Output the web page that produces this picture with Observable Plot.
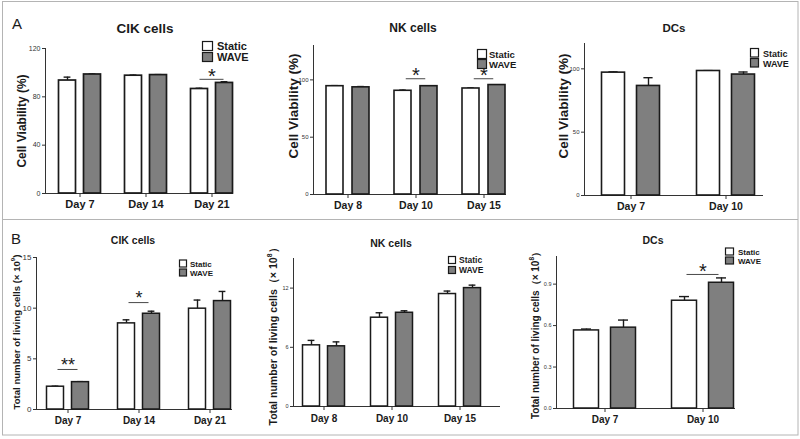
<!DOCTYPE html>
<html><head><meta charset="utf-8">
<script src="https://cdn.jsdelivr.net/npm/d3@7"></script>
<script src="https://cdn.jsdelivr.net/npm/@observablehq/plot@0.6"></script>
<style>
body{margin:0;background:#fff;}
#fig{position:relative;width:800px;height:439px;background:#fff;overflow:hidden;font-family:"Liberation Sans",Arial,sans-serif;}
#fig .panel{position:absolute;}
#overlay{position:absolute;left:0;top:0;pointer-events:none;}
</style></head><body><div id="fig"></div>
<script>
// ---------- data ----------
const seriesNames = ["Static", "WAVE"];

const cikADays = ["Day 7", "Day 14", "Day 21"];
const cikAStatic = [93.5, 97.5, 86.5];
const cikAStaticErr = [2.8, 0.5, 0.6];
const cikAWave = [98.5, 98.0, 91.5];
const cikAWaveErr = [0.4, 0.4, 1.0];
const cikAYTicks = [0, 40, 80, 120];
const cikASig = [{day: "Day 21", level: 94.5, label: "*"}];

const nkADays = ["Day 8", "Day 10", "Day 15"];
const nkAStatic = [94.5, 90.5, 92.5];
const nkAStaticErr = [0.5, 0.6, 0.5];
const nkAWave = [93.5, 94.5, 95.5];
const nkAWaveErr = [0.7, 0.4, 0.3];
const nkAYTicks = [0, 50, 100];
const nkASig = [{day: "Day 10", level: 101, label: "*"}, {day: "Day 15", level: 101, label: "*"}];

const dcADays = ["Day 7", "Day 10"];
const dcAStatic = [97.0, 98.3];
const dcAStaticErr = [0.6, 0.3];
const dcAWave = [86.5, 95.5];
const dcAWaveErr = [6.5, 2.0];
const dcAYTicks = [0, 50, 100];
const dcASig = [];

const cikBDays = ["Day 7", "Day 14", "Day 21"];
const cikBStatic = [2.25, 8.5, 9.95];
const cikBStaticErr = [0.05, 0.35, 0.85];
const cikBWave = [2.7, 9.45, 10.7];
const cikBWaveErr = [0.05, 0.25, 0.95];
const cikBYTicks = [0, 5, 10, 15];
const cikBSig = [{day: "Day 7", level: 3.95, label: "**"}, {day: "Day 14", level: 10.55, label: "*"}];

const nkBDays = ["Day 8", "Day 10", "Day 15"];
const nkBStatic = [6.2, 9.0, 11.4];
const nkBStaticErr = [0.5, 0.5, 0.3];
const nkBWave = [6.1, 9.5, 12.0];
const nkBWaveErr = [0.45, 0.2, 0.3];
const nkBYTicks = [0, 6, 12];
const nkBSig = [];

const dcBDays = ["Day 7", "Day 10"];
const dcBStatic = [0.565, 0.78];
const dcBStaticErr = [0.01, 0.03];
const dcBWave = [0.585, 0.91];
const dcBWaveErr = [0.055, 0.035];
const dcBYTicks = [0, 0.3, 0.6, 0.9];
const dcBSig = [{day: "Day 10", level: 0.97, label: "*"}];

// ---------- drawing ----------
const FONT = "'Liberation Sans', Arial, sans-serif";
const WAVE_FILL = "#7f7f7f";
const INK = "#1a1a1a";
const fig = document.getElementById("fig");

function panel(c) {
  const rows = c.days.map((d, i) => ({day: d, s: c.sv[i], se: c.se[i], w: c.wv[i], we: c.we[i]}));
  const n = c.days.length;
  const step = c.step;
  const p = 1 - c.bw / step;
  const off = (c.bw + c.gap) / 2;
  const cap = c.bw * 0.3;
  const ext = -(c.bh - c.bw / 2);
  const svg = Plot.plot({
    width: c.W, height: c.H,
    marginLeft: c.fx0 - c.L, marginRight: c.L + c.W - c.fx1,
    marginTop: c.fy0 - c.T, marginBottom: c.T + c.H - c.fy1,
    style: {background: "transparent", fontFamily: FONT, color: INK, overflow: "visible"},
    x: {domain: c.days, range: [c.c0 - step / 2 - c.L, c.c0 + (n - 1) * step + step / 2 - c.L], paddingInner: p, paddingOuter: p / 2},
    y: {domain: c.ydom},
    marks: [
      Plot.axisY({ticks: c.yticks, tickFormat: c.fmt, tickSize: 3, tickPadding: 2, fontSize: c.yfs, label: null, stroke: "#333", fill: "#333"}),
      Plot.axisX({tickSize: 4, tickPadding: c.xpad, fontSize: c.xfs, fontWeight: "bold", label: null, stroke: "#333"}),
      Plot.frame({anchor: "left", stroke: "#333"}),
      Plot.ruleY([c.ydom[0]], {stroke: "#333"}),
      Plot.ruleX(rows, {x: "day", y1: "s", y2: d => d.s + d.se, dx: -off, stroke: INK, strokeWidth: 1.4}),
      Plot.tickY(rows, {x: "day", y: d => d.s + d.se, dx: -off, insetLeft: cap, insetRight: cap, stroke: INK, strokeWidth: 1.4}),
      Plot.ruleX(rows, {x: "day", y1: "w", y2: d => d.w + d.we, dx: off, stroke: INK, strokeWidth: 1.4}),
      Plot.tickY(rows, {x: "day", y: d => d.w + d.we, dx: off, insetLeft: cap, insetRight: cap, stroke: INK, strokeWidth: 1.4}),
      Plot.barY(rows, {x: "day", y: "s", dx: -off, fill: "white", stroke: INK, strokeWidth: c.sw}),
      Plot.barY(rows, {x: "day", y: "w", dx: off, fill: WAVE_FILL, stroke: INK, strokeWidth: c.sw}),
      Plot.tickY(c.sig, {x: "day", y: "level", insetLeft: ext, insetRight: ext, stroke: "#333", strokeWidth: 0.9}),
      Plot.text(c.sig, {x: "day", y: "level", text: "label", dy: c.sdy, fontSize: c.sfs, fill: INK})
    ]
  });
  svg.classList.add("panel");
  svg.style.left = c.L + "px";
  svg.style.top = c.T + "px";
  fig.appendChild(svg);
}

const common = {sw: 1.5};
panel({...common, L: 0, T: 0, W: 260, H: 219, fx0: 45, fx1: 233, fy0: 48, fy1: 193,
  days: cikADays, sv: cikAStatic, se: cikAStaticErr, wv: cikAWave, we: cikAWaveErr,
  ydom: [0, 120], yticks: cikAYTicks, yfs: 7, xfs: 11, xpad: 3, c0: 79, step: 66, bw: 17, gap: 8, bh: 12,
  sig: cikASig, sdy: -3, sfs: 20, sw: 1.7});
panel({...common, L: 260, T: 0, W: 270, H: 219, fx0: 313, fx1: 506, fy0: 45, fy1: 194,
  days: nkADays, sv: nkAStatic, se: nkAStaticErr, wv: nkAWave, we: nkAWaveErr,
  ydom: [0, 130], yticks: nkAYTicks, yfs: 6, xfs: 10.5, xpad: 3, c0: 347, step: 68.5, bw: 17.5, gap: 8.5, bh: 10,
  sig: nkASig, sdy: -3, sfs: 20, sw: 1.6});
panel({...common, L: 530, T: 0, W: 268, H: 219, fx0: 584, fx1: 763, fy0: 43, fy1: 195,
  days: dcADays, sv: dcAStatic, se: dcAStaticErr, wv: dcAWave, we: dcAWaveErr,
  ydom: [0, 120], yticks: dcAYTicks, yfs: 6, xfs: 10.5, xpad: 3, c0: 630, step: 95, bw: 23, gap: 12, bh: 12,
  sig: dcASig, sdy: -3, sfs: 20, sw: 1.6});
panel({...common, L: 0, T: 220, W: 260, H: 214, fx0: 36, fx1: 232, fy0: 257, fy1: 409,
  days: cikBDays, sv: cikBStatic, se: cikBStaticErr, wv: cikBWave, we: cikBWaveErr,
  ydom: [0, 15], yticks: cikBYTicks, yfs: 8, xfs: 10, xpad: 3, c0: 67, step: 71, bw: 17, gap: 8, bh: 10,
  sig: cikBSig, sdy: -4, sfs: 18});
panel({...common, L: 260, T: 220, W: 270, H: 214, fx0: 293, fx1: 500, fy0: 258, fy1: 406,
  days: nkBDays, sv: nkBStatic, se: nkBStaticErr, wv: nkBWave, we: nkBWaveErr,
  ydom: [0, 15], yticks: nkBYTicks, yfs: 5.5, xfs: 10, xpad: 4, c0: 323, step: 68, bw: 17, gap: 8, bh: 10,
  sig: nkBSig, sdy: -4, sfs: 18});
panel({...common, L: 530, T: 220, W: 268, H: 214, fx0: 556, fx1: 735, fy0: 256, fy1: 408,
  days: dcBDays, sv: dcBStatic, se: dcBStaticErr, wv: dcBWave, we: dcBWaveErr,
  ydom: [0, 1.1], yticks: dcBYTicks, fmt: d3.format(".1f"), yfs: 5.5, xfs: 10, xpad: 3, c0: 604, step: 98.5, bw: 25, gap: 12, bh: 16,
  sig: dcBSig, sdy: -3, sfs: 20});

// ---------- overlay: frame, letters, titles, legends, y labels ----------
const ov = d3.select(fig).append("svg").attr("id", "overlay").attr("width", 800).attr("height", 439)
  .style("font-family", FONT);
ov.append("rect").attr("x", 2.5).attr("y", 1.5).attr("width", 795.5).attr("height", 433.5)
  .attr("fill", "none").attr("stroke", "#b4b4b4");
ov.append("line").attr("x1", 2.5).attr("x2", 798).attr("y1", 219.5).attr("y2", 219.5).attr("stroke", "#b4b4b4");

const letters = [{t: "A", x: 12, y: 29}, {t: "B", x: 11, y: 244}];
letters.forEach(l => ov.append("text").attr("x", l.x).attr("y", l.y).attr("font-size", 15).attr("fill", INK).text(l.t));

const titles = [
  {t: "CIK cells", x: 145, y: 33, fs: 13.5},
  {t: "NK cells", x: 413, y: 32, fs: 12},
  {t: "DCs", x: 674, y: 32, fs: 11.5},
  {t: "CIK cells", x: 133, y: 244, fs: 10.5},
  {t: "NK cells", x: 391, y: 247, fs: 10.5},
  {t: "DCs", x: 653, y: 244, fs: 10.5}
];
titles.forEach(t => ov.append("text").attr("x", t.x).attr("y", t.y).attr("text-anchor", "middle")
  .attr("font-size", t.fs).attr("font-weight", "bold").attr("fill", INK).text(t.t));

const legends = [
  {x: 202, y: 41, w: 10, h: 9, y2: 52, tx: 217, fs: 11},
  {x: 477, y: 49, w: 9, h: 9, y2: 59, tx: 489, fs: 9.5},
  {x: 750, y: 48, w: 8, h: 8.5, y2: 58, tx: 763, fs: 9},
  {x: 179, y: 259.5, w: 7, h: 7, y2: 268.5, tx: 190, fs: 8},
  {x: 448, y: 256, w: 7, h: 7, y2: 266, tx: 459, fs: 8.5},
  {x: 725, y: 247.5, w: 8, h: 7, y2: 256.5, tx: 738, fs: 8}
];
legends.forEach(l => {
  [[l.y, "white", seriesNames[0]], [l.y2, WAVE_FILL, seriesNames[1]]].forEach(([yy, fill, name]) => {
    ov.append("rect").attr("x", l.x + 0.5).attr("y", yy + 0.5).attr("width", l.w).attr("height", l.h)
      .attr("fill", fill).attr("stroke", INK).attr("stroke-width", 1.2);
    ov.append("text").attr("x", l.tx).attr("y", yy + l.h).attr("font-size", l.fs).attr("font-weight", "bold")
      .attr("fill", INK).text(name);
  });
});

const ylabels = [
  {x: 22, y: 121, fs: 12, t: "Cell Viability (%)"},
  {x: 293, y: 106, fs: 13.5, t: "Cell Viability (%)"},
  {x: 563, y: 106, fs: 13.5, t: "Cell Viability (%)"},
  {x: 16, y: 332, fs: 9.6, t: "Total number of living cells (× 10", sup: "9"},
  {x: 273, y: 334, fs: 10.6, t: "Total number of living cells（× 10", sup: "8"},
  {x: 535, y: 333, fs: 10, t: "Total number of living cells（× 10", sup: "8"}
];
ylabels.forEach(l => {
  const t = ov.append("text").attr("transform", `translate(${l.x},${l.y}) rotate(-90)`)
    .attr("text-anchor", "middle").attr("dominant-baseline", "central")
    .attr("font-size", l.fs).attr("font-weight", "bold").attr("fill", INK);
  t.append("tspan").text(l.t);
  if (l.sup) {
    t.append("tspan").attr("font-size", l.fs * 0.65).attr("dy", -l.fs * 0.4).text(l.sup);
    t.append("tspan").attr("dy", l.fs * 0.4).text(l.t.includes("（") ? "）" : ")");
  }
});
</script>
</body></html>
